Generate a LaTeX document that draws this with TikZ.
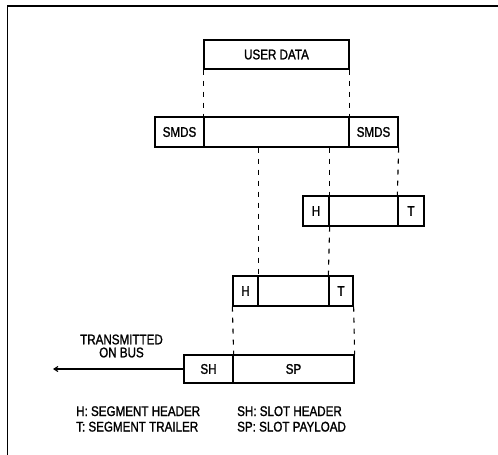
\documentclass[tikz,border=0pt]{standalone}
\usepackage{fontspec}
\setmainfont[FakeStretch=0.83,FakeBold=1.3]{Liberation Sans}
\usetikzlibrary{arrows.meta}
\begin{document}
\begin{tikzpicture}[x=1pt,y=-1pt,
  txt/.style={font=\fontsize{14}{16}\selectfont},
  cell/.style={draw, line width=1.3pt, inner sep=0pt, txt},
  dsh/.style={line width=1.1pt, dash pattern=on 5pt off 6pt},
  frame/.style={line width=1.8pt}]
\useasboundingbox (0,0) rectangle (498,455);
% frame
\coordinate (fTL) at (7.5,6);
\coordinate (fTR) at (498,6);
\coordinate (fBL) at (7.5,455);
\draw[frame] (fTR) -- (fTL) -- (fBL);
% user data
\node[cell, minimum width=145pt, minimum height=29pt] (ud) at (276.5,54.5) {USER DATA};
% SMDS row
\node[cell, minimum width=49pt, minimum height=30pt] (smdsL) at (179.5,132) {SMDS};
\node[cell, minimum width=145pt, minimum height=30pt] (mid) at (276.5,132) {};
\node[cell, minimum width=49pt, minimum height=30pt] (smdsR) at (373.5,132) {SMDS};
% segment 1
\node[cell, minimum width=26pt, minimum height=30pt] (H1) at (316,211) {H};
\node[cell, minimum width=69pt, minimum height=30pt] (P1) at (363.5,211) {};
\node[cell, minimum width=26pt, minimum height=30pt] (T1) at (411,211) {T};
% segment 2
\node[cell, minimum width=25pt, minimum height=30pt] (H2) at (245.5,291) {H};
\node[cell, minimum width=71pt, minimum height=30pt] (P2) at (293.5,291) {};
\node[cell, minimum width=24pt, minimum height=30pt] (T2) at (341,291) {T};
% slot
\node[cell, minimum width=49pt, minimum height=28pt] (SH) at (208.5,369) {SH};
\node[cell, minimum width=121pt, minimum height=28pt] (SP) at (293.5,369) {SP};
% dashed projections
\draw[dsh] (ud.south west) -- (mid.north west);
\draw[dsh] (ud.south east) -- (mid.north east);
\draw[dsh] (H2.north east |- mid.south) -- (H2.north east);
\draw[dsh] (H1.north east |- mid.south) -- (H1.north east);
\draw[dsh] (H1.south east) -- (T2.north west);
\draw[dsh] (smdsR.south east) -- (T1.north west);
\draw[dsh] (H2.south west) -- (SH.north east);
\draw[dsh] (T2.south east) -- (SP.north east);
% bus arrow
\coordinate (busend) at (53,369);
\draw[line width=1.1pt, -{Straight Barb[length=4pt,width=5pt]}] (SH.west) -- (busend);
\node[txt, align=center] (tx) at (121.5,346) {TRANSMITTED\\[-3pt]ON BUS};
% legend
\node[txt, anchor=base west, inner sep=0pt] (lH) at (76,416) {H: SEGMENT HEADER};
\node[txt, anchor=base west, inner sep=0pt] (lT) at (76,431.5) {T: SEGMENT TRAILER};
\node[txt, anchor=base west, inner sep=0pt] (lSH) at (237,416) {SH: SLOT HEADER};
\node[txt, anchor=base west, inner sep=0pt] (lSP) at (237,431.5) {SP: SLOT PAYLOAD};
\end{tikzpicture}
\end{document}
